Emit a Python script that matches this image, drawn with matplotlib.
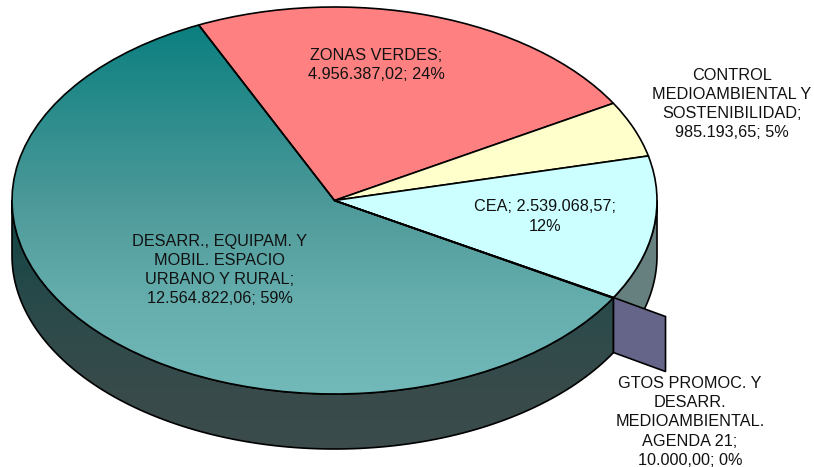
import numpy as np
import matplotlib
matplotlib.use("Agg")
import matplotlib.pyplot as plt
from matplotlib.colors import LinearSegmentedColormap
from matplotlib.patches import Polygon

labels = ["ZONAS VERDES;\n4.956.387,02; 24%",
          "CONTROL\nMEDIOAMBIENTAL Y\nSOSTENIBILIDAD;\n985.193,65; 5%",
          "CEA; 2.539.068,57;\n12%",
          "GTOS PROMOC. Y\nDESARR.\nMEDIOAMBIENTAL.\nAGENDA 21;\n10.000,00; 0%",
          "DESARR., EQUIPAM. Y\nMOBIL. ESPACIO\nURBANO Y RURAL;\n12.564.822,06; 59%"]
values = [4956387.02, 985193.65, 2539068.57, 10000.00, 12564822.06]
colors = ["#FF8080", "#FFFFCC", "#CCFFFF", "#666699", "none"]

W, H = 814, 467
CX, CY, RX, RY, DEPTH = 334.5, 200.5, 322.5, 193.5, 55
START = 114.9
LW = 1.2
plt.rcParams["font.family"] = ["Liberation Sans", "DejaVu Sans"]

fig = plt.figure(figsize=(W / 100, H / 100), dpi=100, facecolor="white")
ax = fig.add_axes([0, 0, 1, 1])

wedges, _ = ax.pie(values, colors=colors, startangle=START, counterclock=False,
                   radius=1, wedgeprops=dict(edgecolor="black", linewidth=LW, zorder=5))
ax.set_aspect("auto")
xlim = (-CX / RX, (W - CX) / RX)
ylim = ((CY - H) / RY, CY / RY)
d = DEPTH / RY

# angle where the cyan slice ends, from the data
frac = np.cumsum(values) / np.sum(values)
a_cea = START - 360 * frac[2]


def wall(a0, a1):
    t = np.radians(np.linspace(a0, a1, 120))
    x, y = np.cos(t), np.sin(t)
    return np.r_[np.c_[x, y], np.c_[x, y - d][::-1]]


# side walls
wall_cea = Polygon(wall(0, a_cea), closed=True, facecolor="#668080",
                   edgecolor="black", linewidth=LW, zorder=1)
ax.add_patch(wall_cea)
wall_teal = Polygon(wall(a_cea, -180), closed=True, facecolor="none",
                    edgecolor="black", linewidth=LW, zorder=2)
ax.add_patch(wall_teal)
cm_wall = LinearSegmentedColormap.from_list(
    "w", [(0, "#0F4444"), (0.45, "#2C4A4A"), (0.75, "#384A4A"), (1, "#3C4C4C")])
im = ax.imshow(np.linspace(0, 1, 256)[:, None], extent=(-1, 1, -1.3, 0), origin="upper",
               cmap=cm_wall, aspect="auto", zorder=1.5, interpolation="bilinear")
im.set_clip_path(wall_teal)

# cut face of the exploded sliver
bx, by = np.cos(np.radians(a_cea)), np.sin(np.radians(a_cea))
ox, oy = 52 / RX, -19 / RY
ax.add_patch(Polygon([(bx, by), (bx + ox, by + oy), (bx + ox, by + oy - d), (bx, by - d)],
                     closed=True, facecolor="#65658A", edgecolor="black",
                     linewidth=LW, zorder=3))

# gradient on the largest slice
cm_top = LinearSegmentedColormap.from_list(
    "t", [(0, "#0B7F7F"), (0.5, "#4F9A9A"), (0.75, "#66AEAE"), (1, "#72B9B9")])
im2 = ax.imshow(np.linspace(0, 1, 256)[:, None], extent=(-1, 1, -1, 0.91), origin="upper",
                cmap=cm_top, aspect="auto", zorder=4, interpolation="bilinear")
im2.set_clip_path(wedges[4])

ax.set_xlim(*xlim)
ax.set_ylim(*ylim)
ax.axis("off")

# text positions in pixels
pos = [(376, 65), (732, 104), (545, 216.5), (690, 422), (219.5, 270)]
for lab, (px, py) in zip(labels, pos):
    ax.text((px - CX) / RX, (CY - py) / RY, lab, ha="center", va="center",
            fontsize=11.7, color="#111111", linespacing=1.35, zorder=10)

fig.savefig("out.png", dpi=100, facecolor="white")
